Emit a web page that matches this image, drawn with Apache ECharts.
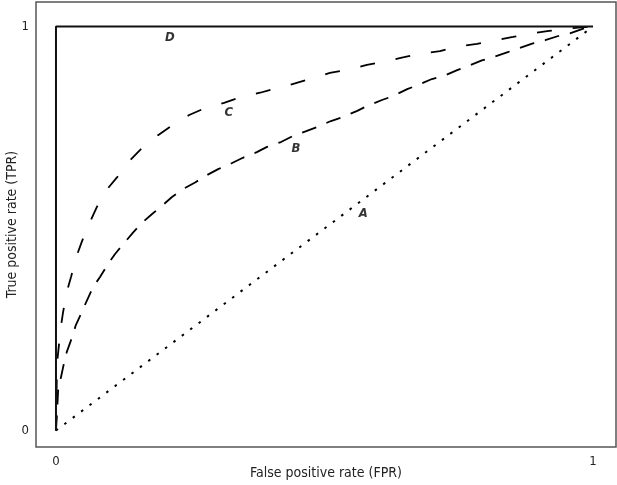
<!DOCTYPE html>
<html>
<head>
<meta charset="utf-8">
<style>html,body{margin:0;padding:0;background:#fff}#c{width:617px;height:485px}</style>
<script src="https://cdn.jsdelivr.net/npm/echarts@6/dist/echarts.min.js"></script>
</head>
<body>
<div id="c"></div>
<script>
var FONT = "'Liberation Sans Narrow', 'DejaVu Sans Condensed', sans-serif";
var tickValues = [0, 1];
var xTitle = 'False positive rate (FPR)';
var yTitle = 'True positive rate (TPR)';

var curveA = [[0,0],[1,1]];
var curveB = [[0,0],[0.002,0.043],[0.004,0.100],[0.009,0.130],[0.015,0.167],[0.020,0.194],[0.030,0.231],[0.037,0.261],[0.048,0.293],[0.058,0.323],[0.069,0.355],[0.082,0.380],[0.097,0.412],[0.110,0.437],[0.127,0.464],[0.143,0.489],[0.160,0.514],[0.179,0.536],[0.199,0.558],[0.216,0.578],[0.236,0.597],[0.259,0.614],[0.281,0.632],[0.302,0.647],[0.328,0.662],[0.348,0.675],[0.374,0.689],[0.393,0.702],[0.419,0.714],[0.441,0.729],[0.466,0.741],[0.486,0.751],[0.512,0.766],[0.534,0.776],[0.561,0.791],[0.579,0.803],[0.607,0.818],[0.628,0.828],[0.654,0.845],[0.674,0.855],[0.700,0.870],[0.721,0.877],[0.747,0.892],[0.767,0.902],[0.793,0.916],[0.814,0.924],[0.840,0.936],[0.862,0.946],[0.888,0.958],[0.911,0.966],[0.939,0.978],[0.957,0.983],[0.985,0.996],[1,1]];
var curveC = [[0,0],[0.002,0.167],[0.009,0.256],[0.013,0.291],[0.020,0.343],[0.028,0.380],[0.039,0.434],[0.048,0.467],[0.065,0.521],[0.076,0.553],[0.097,0.600],[0.114,0.627],[0.140,0.672],[0.160,0.699],[0.190,0.731],[0.212,0.751],[0.248,0.781],[0.274,0.796],[0.313,0.811],[0.339,0.823],[0.380,0.836],[0.445,0.859],[0.510,0.885],[0.540,0.892],[0.579,0.905],[0.607,0.912],[0.648,0.924],[0.674,0.932],[0.715,0.939],[0.743,0.949],[0.784,0.957],[0.812,0.964],[0.851,0.974],[0.877,0.981],[0.918,0.989],[0.944,0.994],[1,1]];
var curveD = [[0,0],[0,1],[1,1]];

var labelNames = ['D','C','B','A'];
var labelPos = [[0.212,0.972],[0.322,0.786],[0.447,0.697],[0.572,0.536]];

var chart = echarts.init(document.getElementById('c'), null, {renderer:'canvas'});
chart.setOption({
  backgroundColor:'#fff',
  animation:false,
  textStyle:{fontFamily:FONT},
  grid:{left:36, top:2, right:1, bottom:38, outerBoundsMode:'none', containLabel:false, show:true, borderColor:'#555', borderWidth:1.5, backgroundColor:'transparent'},
  xAxis:{
    type:'value', min:-0.0372, max:1.0428,
    name:xTitle, nameLocation:'middle', nameGap:19, nameMoveOverlap:false,
    nameTextStyle:{fontFamily:FONT, fontSize:14, color:'#222', verticalAlign:'top'},
    axisLine:{show:false}, axisTick:{show:false}, splitLine:{show:false},
    axisLabel:{customValues:tickValues, fontFamily:FONT, fontSize:13, color:'#222', margin:8}
  },
  yAxis:{
    type:'value', min:-0.0408, max:1.0606,
    name:yTitle, nameLocation:'middle', nameGap:24, nameRotate:90, nameMoveOverlap:false,
    nameTextStyle:{fontFamily:FONT, fontSize:14, color:'#222', verticalAlign:'middle'},
    axisLine:{show:false}, axisTick:{show:false}, splitLine:{show:false},
    axisLabel:{customValues:tickValues, fontFamily:FONT, fontSize:13, color:'#222', margin:7}
  },
  series:[
    {type:'line', data:curveA, showSymbol:false, lineStyle:{color:'#000', width:2, type:[2.5,8]}},
    {type:'line', data:curveB, showSymbol:false, smooth:false, lineStyle:{color:'#000', width:1.8, type:[15,11]}},
    {type:'line', data:curveC, showSymbol:false, smooth:false, lineStyle:{color:'#000', width:1.8, type:[15,21]}},
    {type:'line', data:curveD, showSymbol:false, lineStyle:{color:'#111', width:2}},
    {type:'scatter', symbolSize:0,
      data:labelPos.map(function(p,i){return {value:p, name:labelNames[i]};}),
      label:{show:true, position:'inside', formatter:'{b}', fontFamily:FONT, fontSize:13, fontWeight:'bold', fontStyle:'italic', color:'#000'}}
  ]
});
</script>
</body>
</html>
